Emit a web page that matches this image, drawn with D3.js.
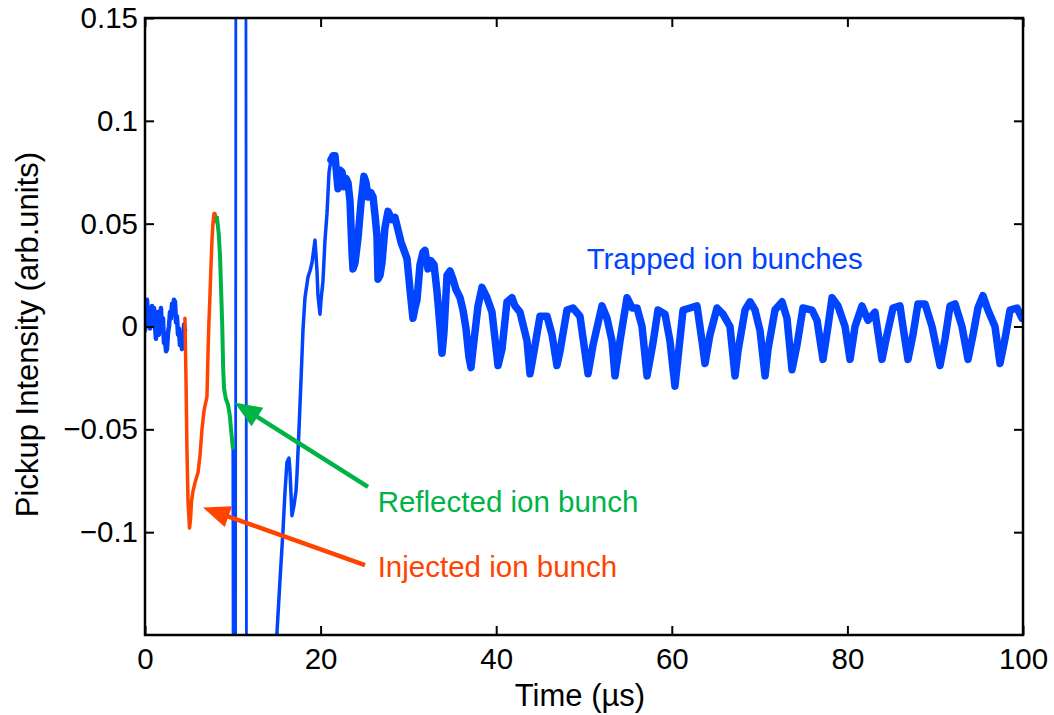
<!DOCTYPE html>
<html>
<head>
<meta charset="utf-8">
<script src="https://cdn.jsdelivr.net/npm/d3@7"></script>
<style>
  html, body { margin: 0; padding: 0; background: #fff; overflow: hidden; }
  svg { display: block; }
  text { font-family: "Liberation Sans", Arial, sans-serif; }
</style>
</head>
<body>
<div id="chart"></div>
<script>
// axis ticks
const tickX = [0, 20, 40, 60, 80, 100]
const tickY = [-0.1, -0.05, 0, 0.05, 0.1, 0.15]

// blue trace before injection
const bluePreT = [0, 0.12, 0.23, 0.35, 0.46, 0.57, 0.68, 0.80, 0.91, 1.02, 1.14, 1.25, 1.37, 1.48, 1.59, 1.70, 1.82, 1.93, 2.05, 2.16, 2.28, 2.40, 2.51, 2.62, 2.73, 2.85, 2.96, 3.08, 3.19, 3.30, 3.42, 3.53, 3.64, 3.76, 3.87, 3.98, 4.10, 4.21, 4.33, 4.45, 4.56]
const bluePreV = [-0.002, 0.006, 0.013, 0.004, 0.008, -0.001, 0.004, 0.010, 0.001, 0.009, 0.000, -0.006, 0.007, -0.002, -0.004, 0.006, 0.009, -0.001, 0.004, -0.008, -0.007, -0.012, -0.011, -0.003, 0.000, 0.007, 0.004, 0.011, 0.006, 0.013, 0.012, 0.002, 0.005, -0.004, -0.001, -0.009, -0.006, -0.011, -0.008, 0.001, -0.002]

// injected ion bunch (red)
const injT = [4.55, 4.67, 4.78, 4.90, 5.07, 5.18, 5.30, 5.47, 5.69, 6.04, 6.26, 6.49, 6.72, 7.06, 7.18, 7.29, 7.40, 7.52, 7.63, 7.74, 7.86, 7.97, 8.08, 8.20]
const injV = [0.004, -0.026, -0.060, -0.085, -0.098, -0.094, -0.085, -0.080, -0.076, -0.071, -0.063, -0.050, -0.041, -0.034, -0.012, 0.003, 0.015, 0.030, 0.042, 0.050, 0.055, 0.055, 0.051, 0.053]

// reflected ion bunch (green)
const refT = [8.20, 8.40, 8.55, 8.65, 8.80, 8.90, 9.00, 9.20, 9.45, 9.65, 9.80, 10.00]
const refV = [0.053, 0.045, 0.034, 0.020, 0.000, -0.020, -0.030, -0.035, -0.038, -0.043, -0.050, -0.059]

// saturated spike after reflection (blue)
const spikeT = [10.00, 10.12, 10.30, 10.36, 11.45, 11.60, 14.70, 15.03]
const spikeV = [-0.059, -0.40, -0.40, 0.40, 0.40, -0.40, -0.40, -0.149]

// rising part of the trapped signal
const riseT = [15.03, 15.38, 15.72, 15.95, 16.17, 16.40, 16.51, 16.74, 16.97, 17.20, 17.31, 17.54, 17.77, 17.88, 17.99, 18.22, 18.56, 18.79, 19.02, 19.36, 19.59, 19.70, 19.93, 20.05, 20.27, 20.50, 20.73, 20.96, 21.18]
const riseV = [-0.149, -0.123, -0.099, -0.080, -0.066, -0.064, -0.070, -0.092, -0.087, -0.080, -0.072, -0.050, -0.026, -0.014, -0.002, 0.014, 0.024, 0.027, 0.031, 0.042, 0.027, 0.015, 0.006, 0.013, 0.022, 0.042, 0.055, 0.075, 0.081]

// trapped ion bunches (blue)
const trapT = [21.18, 21.41, 21.64, 21.87, 21.98, 22.21, 22.44, 22.67, 22.89, 23.12, 23.35, 23.58, 23.69, 23.92, 24.26, 24.60, 24.94, 25.17, 25.40, 25.74, 25.97, 26.20, 26.42, 26.54, 26.77, 26.99, 27.33, 27.68, 27.90, 28.13, 28.47, 28.82, 29.16, 29.50, 29.84, 30.18, 30.52, 30.75, 30.98, 31.32, 31.66, 31.89, 32.23, 32.57, 32.92, 33.26, 33.60, 33.83, 34.05, 34.40, 34.74, 35.08, 35.42, 35.88, 36.22, 36.56, 36.90, 37.13,
  37.36, 37.93, 38.38, 38.95, 39.52, 40.21, 40.66, 41.23, 41.80, 42.14, 42.71, 43.51, 43.85, 44.19, 44.99, 45.79, 46.36, 46.92, 47.27, 48.06, 48.75, 49.54, 50.46, 51.03, 52.05, 52.62, 53.19, 53.53, 54.10, 54.90, 55.47, 56.04, 56.61, 57.18, 57.86, 58.43, 59.23, 59.79, 60.36, 60.71, 61.28, 62.07, 62.87, 63.44, 63.78, 64.35, 65.15, 65.83, 66.63, 67.20, 67.54, 68.34, 68.91, 69.48, 70.05, 70.62, 70.96, 71.75, 72.55, 73.12, 73.69, 74.26, 74.94, 75.97, 76.54, 77.22, 77.79, 78.25, 78.93, 79.73, 80.30, 80.87, 81.66, 82.35, 83.14, 83.94, 84.51, 85.19, 85.99, 86.33, 86.90, 87.47, 88.04, 88.84, 89.64, 90.55, 91.12, 91.69, 92.26, 93.05, 93.74, 94.31, 94.87, 95.44, 96.01, 96.81, 97.38, 97.95, 98.52, 99.32, 99.89]
const trapV = [0.081, 0.083, 0.083, 0.072, 0.067, 0.076, 0.075, 0.068, 0.072, 0.070, 0.061, 0.036, 0.028, 0.031, 0.043, 0.060, 0.073, 0.070, 0.063, 0.065, 0.063, 0.054, 0.044, 0.023, 0.025, 0.031, 0.048, 0.056, 0.054, 0.052, 0.053, 0.047, 0.041, 0.037, 0.033, 0.018, 0.004, 0.009, 0.013, 0.030, 0.036, 0.037, 0.028, 0.032, 0.030, 0.017, 0.000, -0.013, -0.003, 0.025, 0.027, 0.023, 0.018, 0.014, 0.008, -0.001, -0.015, -0.020,
  -0.011, 0.010, 0.019, 0.014, 0.007, -0.019, -0.011, 0.012, 0.014, 0.010, 0.007, -0.007, -0.023, -0.015, 0.005, 0.005, -0.004, -0.019, -0.012, 0.008, 0.009, 0.005, -0.023, -0.009, 0.010, 0.004, -0.007, -0.024, -0.007, 0.014, 0.009, 0.009, 0.000, -0.024, -0.008, 0.008, 0.006, -0.007, -0.029, -0.015, 0.008, 0.009, 0.010, -0.007, -0.018, -0.004, 0.009, 0.006, 0.000, -0.024, -0.012, 0.008, 0.012, 0.008, -0.002, -0.024, -0.011, 0.008, 0.012, 0.004, -0.021, -0.009, 0.009, 0.008, 0.003, -0.016, 0.000, 0.014, 0.010, 0.000, -0.016, 0.000, 0.010, 0.003, 0.007, -0.016, -0.004, 0.009, 0.010, 0.000, -0.016, -0.004, 0.011, 0.011, 0.000, -0.019, -0.006, 0.010, 0.011, 0.000, -0.016, -0.004, 0.009, 0.015, 0.008, 0.000, -0.018, -0.006, 0.008, 0.009, 0.004]

// annotations: [tail t, tail v, tip t, tip v]
const refArrow = [25.4, -0.078, 10.2, -0.037]
const injArrow = [25.06, -0.116, 6.6, -0.088]
const labelText = ['Trapped ion bunches', 'Reflected ion bunch', 'Injected ion bunch']
const labelT = [50.3, 26.5, 26.5]
const labelV = [0.028, -0.090, -0.122]

const colBlue = '#0044ff'
const colRed = '#ff4400'
const colGreen = '#00b347'

const width = 1054, height = 715
const margin = {top: 18, right: 31, bottom: 80, left: 145}
const innerWidth = width - margin.left - margin.right
const innerHeight = height - margin.top - margin.bottom

const svg = d3.select('#chart').append('svg')
    .attr('width', width)
    .attr('height', height)

const g = svg.append('g')
    .attr('transform', `translate(${margin.left},${margin.top})`)

const xScale = d3.scaleLinear().domain([0, 100]).range([0, innerWidth])
const yScale = d3.scaleLinear().domain([-0.15, 0.15]).range([innerHeight, 0])

svg.append('defs').append('clipPath').attr('id', 'plotClip')
    .append('rect').attr('width', innerWidth).attr('height', innerHeight)

const line = d3.line()
    .x(d => xScale(d[0]))
    .y(d => yScale(d[1]))

const zip = (ts, vs) => ts.map((t, i) => [t, vs[i]])

// stroke width stands in for the dense noise band of the raw trace
const traces = [
    {t: bluePreT, v: bluePreV, c: colBlue, w: 4.5},
    {t: spikeT, v: spikeV, c: colBlue, w: 2.8},
    {t: riseT, v: riseV, c: colBlue, w: 3.5},
    {t: trapT, v: trapV, c: colBlue, w: 7.5},
    {t: injT, v: injV, c: colRed, w: 3.5},
    {t: refT, v: refV, c: colGreen, w: 4}
]

const plotG = g.append('g').attr('clip-path', 'url(#plotClip)')
plotG.selectAll('path.trace').data(traces).join('path')
    .attr('class', 'trace')
    .attr('d', d => line(zip(d.t, d.v)))
    .attr('fill', 'none')
    .attr('stroke', d => d.c)
    .attr('stroke-width', d => d.w)
    .attr('stroke-linejoin', 'round')
    .attr('stroke-linecap', 'round')

// arrows
function drawArrow(a, color) {
    const x0 = xScale(a[0]), y0 = yScale(a[1])
    const x1 = xScale(a[2]), y1 = yScale(a[3])
    const len = Math.hypot(x1 - x0, y1 - y0)
    const ux = (x1 - x0) / len, uy = (y1 - y0) / len
    const headL = 27, headW = 11
    const bx = x1 - ux * headL, by = y1 - uy * headL
    g.append('line')
        .attr('x1', x0).attr('y1', y0)
        .attr('x2', bx + ux * 2).attr('y2', by + uy * 2)
        .attr('stroke', color)
        .attr('stroke-width', 4.5)
    g.append('path')
        .attr('d', `M${x1},${y1}L${bx - uy * headW},${by + ux * headW}L${bx + uy * headW},${by - ux * headW}Z`)
        .attr('fill', color)
}
drawArrow(refArrow, colGreen)
drawArrow(injArrow, colRed)

g.selectAll('text.note').data(labelText).join('text')
    .attr('class', 'note')
    .attr('x', (_, i) => xScale(labelT[i]))
    .attr('y', (_, i) => yScale(labelV[i]))
    .attr('fill', (_, i) => [colBlue, colGreen, colRed][i])
    .attr('font-size', 29.5)
    .text(d => d)

// axes, ticks pointing inward
const yFmt = d => d === 0 ? '0' : d3.format('~g')(d)

const xAxisG = g.append('g')
    .attr('transform', `translate(0,${innerHeight})`)
    .call(d3.axisBottom(xScale).tickValues(tickX).tickSize(-9).tickPadding(13))
const xTopG = g.append('g')
    .call(d3.axisTop(xScale).tickValues(tickX).tickSize(-9).tickFormat(''))
const yAxisG = g.append('g')
    .call(d3.axisLeft(yScale).tickValues(tickY).tickSize(-9).tickPadding(7).tickFormat(yFmt))
const yRightG = g.append('g')
    .attr('transform', `translate(${innerWidth},0)`)
    .call(d3.axisRight(yScale).tickValues(tickY).tickSize(-9).tickFormat(''))

for (const ax of [xAxisG, xTopG, yAxisG, yRightG]) {
    ax.select('.domain').remove()
    ax.selectAll('.tick line').attr('stroke', '#000').attr('stroke-width', 2)
    ax.selectAll('.tick text')
        .attr('fill', '#000')
        .attr('font-size', 29.5)
        .attr('font-family', '"Liberation Sans", Arial, sans-serif')
}

g.append('rect')
    .attr('width', innerWidth)
    .attr('height', innerHeight)
    .attr('fill', 'none')
    .attr('stroke', '#000')
    .attr('stroke-width', 2.5)

g.append('text')
    .attr('x', innerWidth / 2 - 4)
    .attr('y', innerHeight + 71)
    .attr('text-anchor', 'middle')
    .attr('font-size', 31)
    .text('Time (µs)')

g.append('text')
    .attr('transform', `translate(${-107},${innerHeight / 2 + 8}) rotate(-90)`)
    .attr('text-anchor', 'middle')
    .attr('font-size', 31)
    .text('Pickup Intensity (arb.units)')
</script>
</body>
</html>
